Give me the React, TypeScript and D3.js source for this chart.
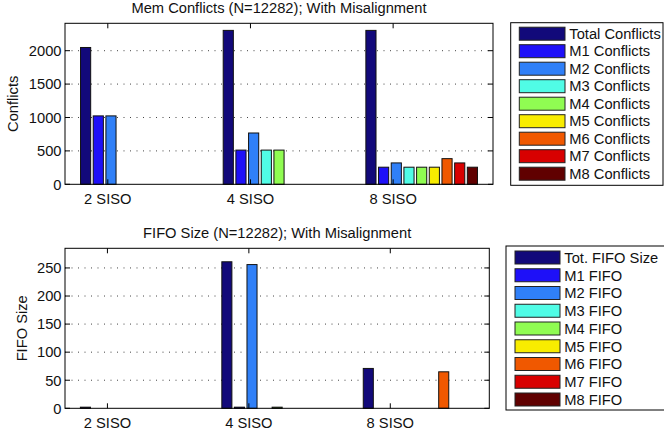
import React from "react";
import * as d3 from "d3";

const categories = ["2 SISO", "4 SISO", "8 SISO"];

const conflictSeries = [
  "Total Conflicts", "M1 Conflicts", "M2 Conflicts", "M3 Conflicts", "M4 Conflicts",
  "M5 Conflicts", "M6 Conflicts", "M7 Conflicts", "M8 Conflicts",
];
const conflicts2 = [2048, 1024, 1024, 0, 0, 0, 0, 0, 0];
const conflicts4 = [2304, 512, 768, 512, 512, 0, 0, 0, 0];
const conflicts8 = [2304, 256, 320, 256, 256, 256, 384, 320, 256];
const conflictTicks = [0, 500, 1000, 1500, 2000];

const fifoSeries = [
  "Tot. FIFO Size", "M1 FIFO", "M2 FIFO", "M3 FIFO", "M4 FIFO",
  "M5 FIFO", "M6 FIFO", "M7 FIFO", "M8 FIFO",
];
const fifo2 = [2, 0, 0, 0, 0, 0, 0, 0, 0];
const fifo4 = [261, 2, 256, 0, 2, 0, 0, 0, 0];
const fifo8 = [71, 0, 0, 0, 0, 0, 65, 0, 0];
const fifoTicks = [0, 50, 100, 150, 200, 250];

const seriesColors = [
  "#12097a", "#1e10f8", "#3080f8", "#50fce6", "#90fc52",
  "#f8ec00", "#f05800", "#d80000", "#600000",
];

const FONT = "'Liberation Sans', Arial, Helvetica, sans-serif";
const FS = 14.7;

type PanelProps = {
  title: string;
  ylabel: string;
  ylabelX: number;
  values: number[][];
  series: string[];
  ticks: number[];
  ymax: number;
  x0: number; x1: number; y0: number; y1: number;
  legend: { left: number; right: number; top: number; bottom: number; swX: number; swW: number; textX: number; firstY: number; pitch: number };
};

function Panel(p: PanelProps) {
  const x = d3.scaleLinear().domain([0.5, 3.5]).range([p.x0, p.x1]);
  const y = d3.scaleLinear().domain([0, p.ymax]).range([p.y1, p.y0]);
  const n = p.series.length;
  const groupW = 0.8;
  const pitch = groupW / n;
  const barW = pitch * 0.8;
  const tickLen = 5;
  const xTickPos = categories.map((_, i) => i + 1 - 0.2);
  return (
    <g>
      {/* grid */}
      {p.ticks.filter((t) => t > 0).map((t) => (
        <line key={"g" + t} x1={p.x0} x2={p.x1} y1={y(t)} y2={y(t)}
          stroke="#444" strokeWidth={1} strokeDasharray="1,5.5" />
      ))}
      {/* bars */}
      {p.values.map((vals, gi) =>
        vals.map((v, si) => {
          const cx = gi + 1 - groupW / 2 + (si + 0.5) * pitch;
          const left = x(cx - barW / 2);
          const right = x(cx + barW / 2);
          return (
            <rect key={`b${gi}-${si}`} x={left} width={right - left}
              y={y(v)} height={y(0) - y(v)}
              fill={seriesColors[si]} stroke="#111" strokeWidth={1} />
          );
        })
      )}
      {/* box */}
      <rect x={p.x0} y={p.y0} width={p.x1 - p.x0} height={p.y1 - p.y0}
        fill="none" stroke="#000" strokeWidth={1} />
      {/* y ticks */}
      {p.ticks.map((t) => (
        <g key={"yt" + t}>
          <line x1={p.x0} x2={p.x0 + tickLen} y1={y(t)} y2={y(t)} stroke="#000" />
          <line x1={p.x1} x2={p.x1 - tickLen} y1={y(t)} y2={y(t)} stroke="#000" />
          <text x={p.x0 - 3.5} y={y(t)} dy="0.36em" textAnchor="end"
            fontFamily={FONT} fontSize={FS} fill="#111">{t}</text>
        </g>
      ))}
      {/* x ticks */}
      {categories.map((c, i) => (
        <g key={"xt" + c}>
          <line x1={x(xTickPos[i])} x2={x(xTickPos[i])} y1={p.y1} y2={p.y1 - tickLen} stroke="#000" />
          <line x1={x(xTickPos[i])} x2={x(xTickPos[i])} y1={p.y0} y2={p.y0 + tickLen} stroke="#000" />
          <text x={x(xTickPos[i])} y={p.y1 + 19.5} textAnchor="middle"
            fontFamily={FONT} fontSize={FS} fill="#111">{c}</text>
        </g>
      ))}
      {/* title */}
      <text x={(p.x0 + p.x1) / 2} y={p.y0 - 10.3} textAnchor="middle"
        fontFamily={FONT} fontSize={FS} fill="#111">{p.title}</text>
      {/* y label */}
      <text transform={`translate(${p.ylabelX},${(p.y0 + p.y1) / 2}) rotate(-90)`}
        textAnchor="middle" fontFamily={FONT} fontSize={FS} fill="#111">{p.ylabel}</text>
      {/* legend */}
      <rect x={p.legend.left} y={p.legend.top} width={p.legend.right - p.legend.left}
        height={p.legend.bottom - p.legend.top} fill="#fff" stroke="#000" strokeWidth={1} />
      {p.series.map((s, si) => {
        const cy = p.legend.firstY + si * p.legend.pitch;
        return (
          <g key={"lg" + s}>
            <rect x={p.legend.swX} y={cy - 6.5} width={p.legend.swW} height={13}
              fill={seriesColors[si]} stroke="#222" strokeWidth={1} />
            <text x={p.legend.textX} y={cy} dy="0.36em" fontFamily={FONT}
              fontSize={FS} fill="#111">{s}</text>
          </g>
        );
      })}
    </g>
  );
}

export default function App() {
  return (
    <svg width={664} height={438} style={{ position: "absolute", left: 0, top: 0, background: "#fff" }}>
      <rect x={0} y={0} width={664} height={438} fill="#fff" />
      <Panel
        title="Mem Conflicts (N=12282); With Misalignment"
        ylabel="Conflicts"
        ylabelX={18.3}
        values={[conflicts2, conflicts4, conflicts8]}
        series={conflictSeries}
        ticks={conflictTicks}
        ymax={2410}
        x0={65} x1={493} y0={23.3} y1={184.3}
        legend={{ left: 510.7, right: 663, top: 22.7, bottom: 185.3, swX: 519.3, swW: 45.7, textX: 569.3, firstY: 33.7, pitch: 17.5 }}
      />
      <Panel
        title="FIFO Size (N=12282); With Misalignment"
        ylabel="FIFO Size"
        ylabelX={26.5}
        values={[fifo2, fifo4, fifo8]}
        series={fifoSeries}
        ticks={fifoTicks}
        ymax={285}
        x0={65} x1={489.3} y0={248.3} y1={408.3}
        legend={{ left: 506, right: 668, top: 246, bottom: 410, swX: 515, swW: 45, textX: 564.3, firstY: 257.5, pitch: 17.75 }}
      />
    </svg>
  );
}
